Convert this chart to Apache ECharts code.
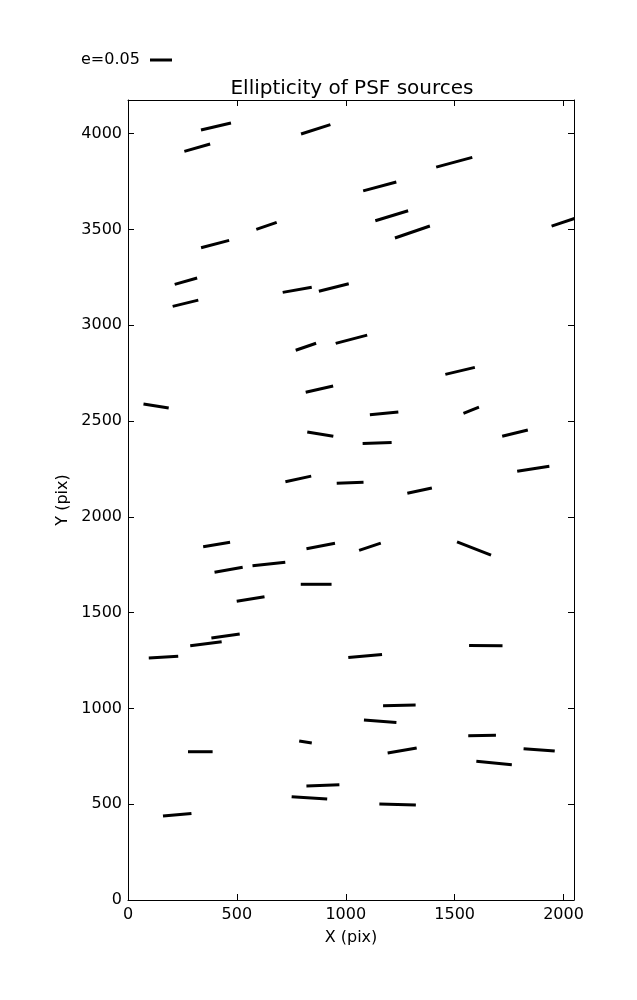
<!DOCTYPE html>
<html>
<head>
<meta charset="utf-8">
<script src="https://cdn.jsdelivr.net/npm/echarts@6/dist/echarts.min.js"></script>
<style>
html,body{margin:0;padding:0;background:#fff;}
#chart{width:637px;height:1000px;}
</style>
</head>
<body>
<div id="chart"></div>
<script>
// Source centres (pix), ellipticity magnitude and position angle (deg, as displayed)
const xs = [404, 862, 318, 1498, 1156, 1211, 2017, 636, 1306, 400,
            266, 777, 945, 264, 817, 1026, 1525, 879, 129, 1576,
            1176, 883, 1777, 1144, 1861, 782, 1020, 1339, 1589, 407,
            885, 1111, 647, 462, 864, 563, 448, 358, 1643, 163,
            1089, 1246, 1158, 815, 332, 1259, 1626, 1888, 1681, 895,
            833, 1238, 226];
const ys = [4038, 4023, 3927, 3851, 3725, 3572, 3545, 3519, 3487, 3424,
            3230, 3185, 3197, 3115, 2888, 2927, 2762, 2667, 2579, 2557,
            2540, 2432, 2437, 2385, 2251, 2198, 2178, 2137, 1835, 1856,
            1848, 1844, 1754, 1724, 1648, 1571, 1378, 1338, 1328, 1268,
            1274, 1016, 933, 825, 774, 780, 859, 784, 715, 598,
            533, 499, 445];
const es = [0.070, 0.070, 0.061, 0.085, 0.078, 0.078, 0.075, 0.049, 0.084, 0.066,
            0.053, 0.067, 0.070, 0.060, 0.049, 0.074, 0.069, 0.064, 0.058, 0.038,
            0.065, 0.060, 0.060, 0.066, 0.074, 0.060, 0.061, 0.057, 0.083, 0.062,
            0.066, 0.052, 0.075, 0.065, 0.070, 0.064, 0.065, 0.072, 0.076, 0.067,
            0.077, 0.074, 0.074, 0.029, 0.056, 0.067, 0.063, 0.071, 0.081, 0.075,
            0.081, 0.083, 0.065];
const angles = [13.1, 17.6, 15.9, 15.1, 15.1, 17.0, 18.5, 18.9, 18.9, 14.7,
                15.8, 9.8, 14.2, 13.8, 19.0, 14.7, 13.4, 12.9, -8.9, 21.9,
                5.4, -9.4, 13.9, 2.0, 8.9, 12.4, 2.1, 12.1, -21.4, 9.4,
                10.7, 18.6, 6.4, 10.1, 0.0, 9.3, 8.0, 7.3, -0.7, 3.3,
                5.1, 1.2, -4.1, -9.2, 0.0, 9.8, 0.8, -4.2, -5.5, 2.3,
                -3.7, -1.6, 5.4];
const xTicks = [0, 500, 1000, 1500, 2000];
const yTicks = [0, 500, 1000, 1500, 2000, 2500, 3000, 3500, 4000];
const E_REF = 0.05;
const X_MAX = 2048, Y_MAX = 4176;

const PX_PER_E = 440; // whisker pixel length per unit ellipticity
const FONT = 'DejaVu Sans';

const data = xs.map((x, i) => [x, ys[i], es[i], angles[i]]);

const chart = echarts.init(document.getElementById('chart'), null, {renderer: 'canvas'});

function tickFmt(list) {
  return v => (list.indexOf(v) >= 0 ? String(v) : '');
}

function makeAxis(extra, ticks) {
  return Object.assign({
    type: 'value',
    splitLine: {show: false},
    axisLine: {show: true, onZero: false, lineStyle: {color: '#000', width: 1}},
    axisTick: {
      show: true, inside: true, length: 6, lineStyle: {color: '#000', width: 1},
      customValues: ticks
    }
  }, extra);
}

const option = {
  backgroundColor: '#fff',
  animation: false,
  title: {
    text: 'Ellipticity of PSF sources',
    left: 347, top: 74, textAlign: 'center',
    textStyle: {fontFamily: FONT, fontSize: 20, fontWeight: 'normal', color: '#000'}
  },
  grid: {left: 128, top: 100, width: 446, height: 800, containLabel: false},
  xAxis: [
    makeAxis({
      position: 'bottom', min: 0, max: X_MAX, interval: 500,
      name: 'X (pix)', nameLocation: 'middle', nameGap: 30,
      nameTextStyle: {fontFamily: FONT, fontSize: 16, color: '#000'},
      axisLabel: {show: true, margin: 7, fontFamily: FONT, fontSize: 16, color: '#000',
                  formatter: tickFmt(xTicks), customValues: xTicks}
    }, xTicks),
    makeAxis({
      position: 'top', min: 0, max: X_MAX, interval: 500,
      axisLabel: {show: false}
    }, xTicks)
  ],
  yAxis: [
    makeAxis({
      position: 'left', min: 0, max: Y_MAX, interval: 500,
      name: 'Y (pix)', nameLocation: 'middle', nameGap: 57, nameRotate: 90,
      nameTextStyle: {fontFamily: FONT, fontSize: 16, color: '#000'},
      axisLabel: {show: true, margin: 6, fontFamily: FONT, fontSize: 16, color: '#000',
                  formatter: tickFmt(yTicks), customValues: yTicks}
    }, yTicks),
    makeAxis({
      position: 'right', min: 0, max: Y_MAX, interval: 500,
      axisLabel: {show: false}
    }, yTicks)
  ],
  graphic: [
    {
      type: 'text', left: 81, top: 52,
      style: {text: 'e=' + E_REF.toFixed(2), fontFamily: FONT, fontSize: 16, fill: '#000'}
    },
    {
      type: 'line', shape: {x1: 150, y1: 60, x2: 150 + E_REF * PX_PER_E, y2: 60},
      style: {stroke: '#000', lineWidth: 3}
    }
  ],
  series: [{
    type: 'custom',
    coordinateSystem: 'cartesian2d',
    clip: true,
    data: data,
    renderItem: function (params, api) {
      const c = api.coord([api.value(0), api.value(1)]);
      const half = api.value(2) * PX_PER_E / 2;
      const a = api.value(3) * Math.PI / 180;
      const dx = half * Math.cos(a), dy = half * Math.sin(a);
      return {
        type: 'line',
        shape: {x1: c[0] - dx, y1: c[1] + dy, x2: c[0] + dx, y2: c[1] - dy},
        style: {stroke: '#000', lineWidth: 3, lineCap: 'butt'}
      };
    }
  }]
};

chart.setOption(option);
</script>
</body>
</html>
